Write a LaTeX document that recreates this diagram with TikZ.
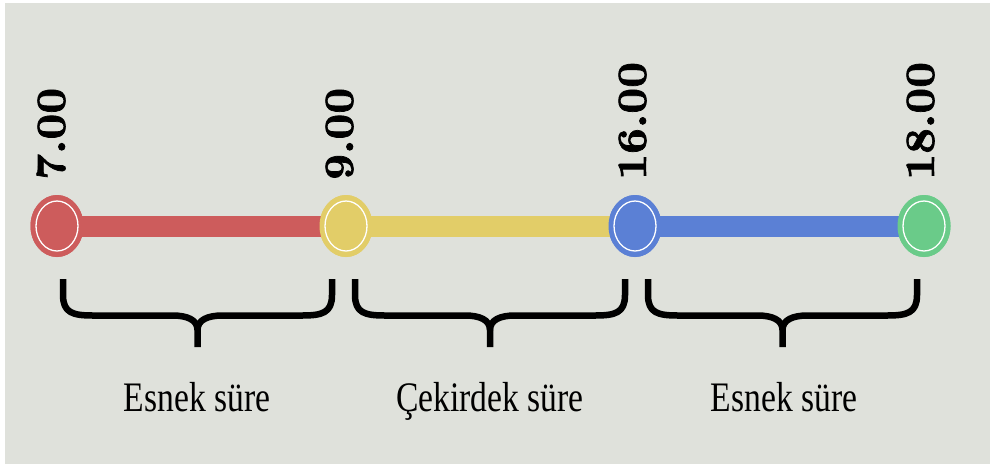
\documentclass[tikz,border=0pt]{standalone}
\usepackage{fontspec}
\newfontfamily\timesfont{Liberation Serif}
\newfontfamily\heavyfont{lmroman10-bold.otf}[FakeBold=1.6]
\usetikzlibrary{shapes.geometric}
\definecolor{bgcol}{RGB}{223,225,219}
\definecolor{cred}{RGB}{205,92,92}
\definecolor{cyellow}{RGB}{226,205,104}
\definecolor{cblue}{RGB}{91,128,213}
\definecolor{cgreen}{RGB}{106,203,137}
\tikzset{
  dot/.style={ellipse, minimum width=53pt, minimum height=62pt, inner sep=0pt, draw=none},
  bar/.style={line width=21pt, line cap=butt},
  timelabel/.style={rotate=90, anchor=base west, inner sep=0pt, font=\fontsize{45}{50}\selectfont\heavyfont},
  spanlabel/.style={anchor=base, inner sep=0pt, font=\fontsize{42}{48}\selectfont\timesfont},
  bracestyle/.style={line width=6.5pt, line cap=butt, line join=round, black}
}
\begin{document}
\begin{tikzpicture}[x=1pt,y=-1pt]
\useasboundingbox (0,0) rectangle (990,464);
\fill[white] (0,0) rectangle (990,464);
\fill[bgcol] (5,3) rectangle (990,464);
% circles
\node[dot, fill=cred] (a) at (57,226) {};
\node[dot, fill=cyellow] (b) at (346,226) {};
\node[dot, fill=cblue] (c) at (635,226) {};
\node[dot, fill=cgreen] (d) at (924,226) {};
% bars
\draw[bar, cred] (a.center) -- (b.center);
\draw[bar, cyellow] (b.center) -- (c.center);
\draw[bar, cblue] (c.center) -- (d.center);
% redraw circles on top
\foreach \n/\c in {a/cred, b/cyellow, c/cblue, d/cgreen}{
  \fill[\c] (\n.center) ellipse [x radius=26.5pt, y radius=31pt];
  \draw[white, line width=1.3pt] (\n.center) ellipse [x radius=21pt, y radius=25pt];
}
% time labels
\node[timelabel] (ta) at (65,180) {\scalebox{1}[0.93]{7.00}};
\node[timelabel] (tb) at (353,180) {\scalebox{1}[0.93]{9.00}};
\node[timelabel] (tc) at (646,180) {\scalebox{1}[0.93]{16.00}};
\node[timelabel] (td) at (934,180) {\scalebox{1}[0.93]{18.00}};
% braces
\foreach \xl/\xr in {63/332, 355/625, 648/917}{
  \pgfmathsetmacro{\xm}{(\xl+\xr)/2}
  \draw[bracestyle] (\xl,279) -- (\xl,295) .. controls (\xl,313) and (\xl+10,315.5) .. (\xl+30,315.5)
     -- (\xm-25,315.5) .. controls (\xm-10,315.5) and (\xm,320) .. (\xm,330) -- (\xm,347);
  \draw[bracestyle] (\xr,279) -- (\xr,295) .. controls (\xr,313) and (\xr-10,315.5) .. (\xr-30,315.5)
     -- (\xm+25,315.5) .. controls (\xm+10,315.5) and (\xm,320) .. (\xm,330);
}
% span labels
\node[spanlabel] (s1) at (197,411) {\scalebox{0.8}[1]{Esnek süre}};
\node[spanlabel] (s2) at (490,411) {\scalebox{0.8}[1]{Çekirdek süre}};
\node[spanlabel] (s3) at (784,411) {\scalebox{0.8}[1]{Esnek süre}};
\end{tikzpicture}
\end{document}
